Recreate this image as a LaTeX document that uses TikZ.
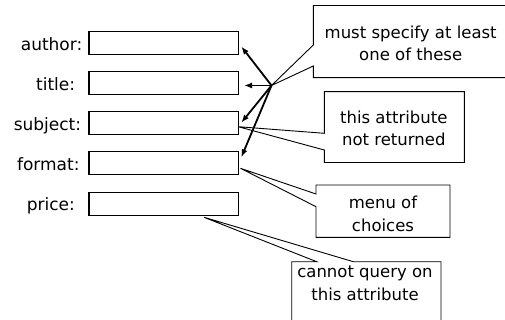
\documentclass[tikz,border=0pt]{standalone}
\usepackage{fontspec}
\setmainfont{DejaVu Sans}
\usetikzlibrary{arrows.meta,calc}

\begin{document}
\begin{tikzpicture}[x=1pt,y=-1pt,
  field/.style={draw, line width=1.2pt, fill=white, minimum width=149.5pt,
    minimum height=23pt, inner sep=0pt, anchor=west},
  fieldlabel/.style={anchor=base east, inner sep=0pt,
    font=\fontsize{17}{20}\selectfont},
  pick/.style={line width=1.8pt, -{Latex[length=8pt,width=6pt]}},
  callout/.style={draw, line width=0.9pt, fill=white, line join=miter},
  note/.style={align=center, inner sep=0pt, anchor=base,
    font=\fontsize{16.5}{22.4}\selectfont}]

\useasboundingbox (0,0) rectangle (505,320);

% query form fields
\node[field] (author)  at (88.3,43.2)  {};
\node[field] (title)   at (88.3,83.3)  {};
\node[field] (subject) at (88.3,123.3) {};
\node[field] (format)  at (88.3,163.3) {};
\node[field] (price)   at (88.3,203.8) {};

\node[fieldlabel] (authorlbl)  at (82.5,50.8)  {author:};
\node[fieldlabel] (titlelbl)   at (75.3,90.8)  {title:};
\node[fieldlabel] (subjectlbl) at (81.3,130.8) {subject:};
\node[fieldlabel] (formatlbl)  at (79.7,170.8) {format:};
\node[fieldlabel] (pricelbl)   at (75.0,211.0) {price:};

% points where the callout wedges meet
\coordinate (hub)     at (271.5,85.5);
\coordinate (subjtip) at ($(subject.east)+(-0.8,3.4)$);
\coordinate (fmttip)  at ($(format.east)+(1.5,5)$);
\coordinate (pricetip) at (204,217.3);

% callout: must specify
\draw[callout] (313.3,5.5) -- (507,5.5) -- (507,77.7) -- (313.3,77.7)
  -- (313.3,66) -- (hub) -- (313.3,45) -- cycle;
\node[note] (must) at (410.7,60.7) {must specify at least\\one of these};

% callout: not returned
\draw[callout] (324.3,91.7) -- (464.3,91.7) -- (464.3,162.5) -- (324.3,162.5)
  -- (324.3,150) -- (subjtip) -- (324.3,133.3) -- cycle;
\node[note] (notret) at (393.8,145.7) {this attribute\\not returned};

% callout: menu
\draw[callout] (316,185) -- (450,185) -- (450,237.3) -- (316,237.3)
  -- (316,206.7) -- (fmttip) -- (316,194) -- cycle;
\node[note] (menu) at (383,231) {menu of\\choices};

% callout: cannot query
\draw[callout] (291.7,261.7) -- (316.7,261.7) -- (pricetip) -- (353.3,261.7)
  -- (441,261.7) -- (441,323) -- (291.7,323) -- cycle;
\node[note] (noquery) at (365,300) {cannot query on\\this attribute};

% arrows to the searchable fields
\coordinate (authtip) at ($(author.east)+(2.3,3.3)$);
\coordinate (titletip) at ($(title.east)+(5,2.2)$);
\coordinate (subjarr) at ($(subject.east)+(2.3,-0.6)$);
\coordinate (fmtarr) at ($(format.east)+(2.3,-6)$);
\draw[pick] (hub) -- (authtip);
\draw[pick] (hub) -- (titletip);
\draw[pick] (hub) -- (subjarr);
\draw[pick] (hub) -- (fmtarr);
\end{tikzpicture}
\end{document}
